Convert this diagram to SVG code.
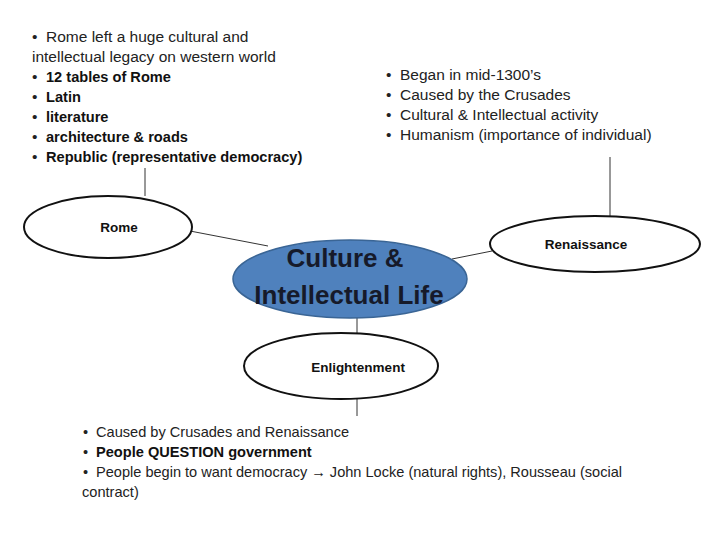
<svg xmlns="http://www.w3.org/2000/svg" width="720" height="540" viewBox="0 0 720 540">
<style>
.t{font-family:"Liberation Sans",Arial,sans-serif;font-size:15.5px;fill:#222}
.s{font-size:14.6px}
.b{font-weight:bold;font-size:14.6px;fill:#111}
.n{fill:#fff;stroke:#111;stroke-width:2}
.lbl{font-family:"Liberation Sans",Arial,sans-serif;font-size:13.5px;font-weight:bold;fill:#111;text-anchor:middle}
.c{stroke:#333;stroke-width:1;fill:none}
.big{font-family:"Liberation Sans",Arial,sans-serif;font-size:26px;font-weight:bold;text-anchor:middle;fill:#161a2a}
</style>
<rect width="720" height="540" fill="#fff"/>
<g id="connectors">
<line class="c" x1="145" y1="168" x2="145" y2="196"/>
<line class="c" x1="190" y1="231" x2="268" y2="246"/>
<line class="c" x1="610" y1="157" x2="610" y2="218"/>
<line class="c" x1="452" y1="259" x2="492" y2="251"/>
<line class="c" x1="357" y1="318" x2="357" y2="333"/>
<line class="c" x1="357" y1="399" x2="357" y2="416"/>
</g>
<g id="rome">
<ellipse class="n" cx="108" cy="227" rx="84" ry="31"/>
<text class="lbl" x="119" y="232">Rome</text>
</g>
<g id="renaissance">
<ellipse class="n" cx="595" cy="244" rx="105" ry="28"/>
<text class="lbl" x="586" y="249">Renaissance</text>
</g>
<g id="center">
<ellipse cx="350" cy="279" rx="117" ry="39" fill="#4f81bd" stroke="#3a6595" stroke-width="1.5"/>
<text class="big" x="345" y="267">Culture &amp;</text>
<text class="big" x="349" y="304">Intellectual Life</text>
</g>
<g id="enlightenment">
<ellipse class="n" cx="341" cy="366" rx="97" ry="33"/>
<text class="lbl" x="358" y="372">Enlightenment</text>
</g>
<g id="rome-notes">
<text class="t" x="32" y="42">•<tspan x="46">Rome left a huge cultural and</tspan></text>
<text class="t" x="32" y="62">intellectual legacy on western world</text>
<text class="t" x="32" y="82">•<tspan class="b" x="46">12 tables of Rome</tspan></text>
<text class="t" x="32" y="102">•<tspan class="b" x="46">Latin</tspan></text>
<text class="t" x="32" y="122">•<tspan class="b" x="46">literature</tspan></text>
<text class="t" x="32" y="142">•<tspan class="b" x="46">architecture &amp; roads</tspan></text>
<text class="t" x="32" y="162">•<tspan class="b" x="46">Republic (representative democracy)</tspan></text>
</g>
<g id="renaissance-notes">
<text class="t" x="386" y="80">•<tspan x="400">Began in mid-1300’s</tspan></text>
<text class="t" x="386" y="100">•<tspan x="400">Caused by the Crusades</tspan></text>
<text class="t" x="386" y="120">•<tspan x="400">Cultural &amp; Intellectual activity</tspan></text>
<text class="t" x="386" y="140">•<tspan x="400">Humanism (importance of individual)</tspan></text>
</g>
<g id="enlightenment-notes">
<text class="t s" x="83" y="437">•<tspan x="96">Caused by Crusades and Renaissance</tspan></text>
<text class="t s" x="83" y="457">•<tspan class="b" x="96" font-size="14px">People QUESTION government</tspan></text>
<text class="t s" x="83" y="477">•<tspan x="96" textLength="526" lengthAdjust="spacingAndGlyphs">People begin to want democracy →  John Locke (natural rights), Rousseau (social</tspan></text>
<text class="t s" x="82" y="497">contract)</text>
</g>
</svg>
